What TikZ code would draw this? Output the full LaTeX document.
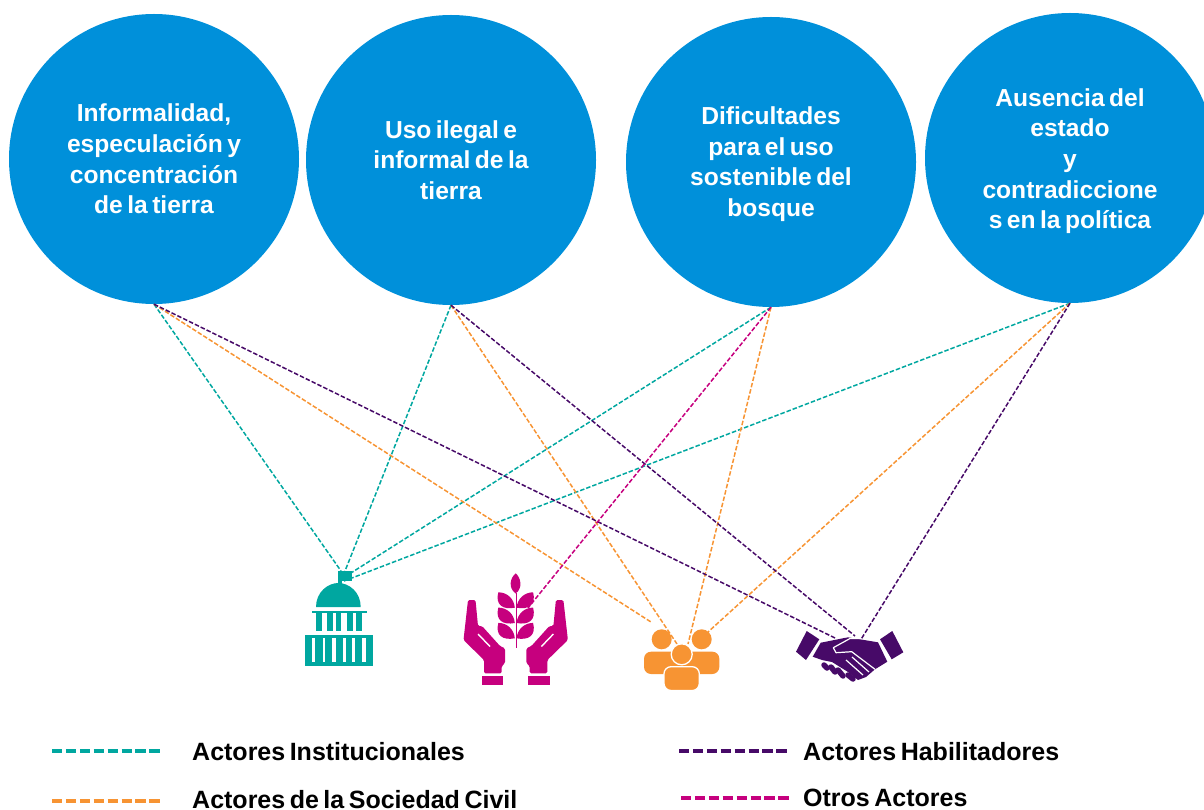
\documentclass[tikz,border=0pt]{standalone}
\usepackage{fontspec}
\setmainfont[WordSpace=0.65]{Liberation Sans}
\definecolor{azul}{HTML}{0090DA}
\definecolor{institucional}{HTML}{00A7A0}
\definecolor{civil}{HTML}{F79433}
\definecolor{habilitador}{HTML}{470A68}
\definecolor{otros}{HTML}{C6007E}
\tikzset{
	problema/.style={circle,fill=azul,draw=none,text=white,minimum size=290pt,inner sep=0pt,align=center,
		font=\fontsize{24.6}{30.7}\selectfont\bfseries},
	enlace/.style={dashed,dash pattern=on 4.5pt off 2pt,line width=1.5pt},
	muestra/.style={dash pattern=on 10.4pt off 3.5pt,line width=3.2pt},
	leyenda/.style={anchor=base west,inner sep=0pt,text=black,font=\fontsize{25}{28}\selectfont\bfseries},
	dedo/.style={habilitador,line width=5.5pt,line cap=round},
	mano/.pic={
		\fill[otros,rounded corners=1.5pt] (463.5,640) -- (468,600) -- (475.5,600) -- (478,626)
			-- (482,626) -- (500,646) -- (505,648.3) -- (505,663.3) -- (501.7,666) -- (501.7,673.3)
			-- (484,673.3) -- (484,660) -- cycle;
		\draw[white,line width=1.4pt] (478,634) -- (490,646.5);
		\fill[otros] (481.7,675.7) rectangle (503.3,685);
	},
	hojas/.pic={
		\foreach \dy in {0,15.3,30.6}{
			\fill[otros,yshift=-\dy pt] (498.3,592.3) .. controls (506.7,592.3) and (514,598.3) .. (514.8,607.7)
				.. controls (503,610) and (495,605) .. cycle;
		}
	},
}
\begin{document}
\begin{tikzpicture}[x=1pt,y=-1pt]
	\useasboundingbox (0,0) rectangle (1204,810);
	\node[problema] (informalidad) at (154,159) {Informalidad,\\especulación y\\concentración\\de la tierra};
	\node[problema] (usoilegal) at (451,160) {Uso ilegal e\\informal de la\\tierra};
	\node[problema] (dificultades) at (771,162) {\rule{0pt}{22pt}Dificultades\\para el uso\\sostenible del\\bosque};
	\node[problema] (ausencia) at (1070,158) {\rule{0pt}{24pt}Ausencia del\\estado\\y\\contradiccione\\s en la política};

	% extremos de los enlaces
	\coordinate (gobA) at (341,571);
	\coordinate (gobB) at (345,571);
	\coordinate (gobC) at (343,578);
	\coordinate (gobD) at (344,581);
	\coordinate (plantaA) at (528,608);
	\coordinate (gentA) at (651,622);
	\coordinate (gentB) at (677,644);
	\coordinate (gentC) at (688,644);
	\coordinate (gentD) at (708,632);
	\coordinate (manosA) at (835,638);
	\coordinate (manosB) at (855,636);
	\coordinate (manosC) at (860,641);

	\draw[enlace,institucional]
	(informalidad.south) edge (gobA)
	(usoilegal.south) edge (gobB)
	(dificultades.south) edge (gobC)
	(ausencia.south) edge (gobD)
	;
	\draw[enlace,civil]
	(informalidad.south) edge (gentA)
	(usoilegal.south) edge (gentB)
	(dificultades.south) edge (gentC)
	(ausencia.south) edge (gentD)
	;
	\draw[enlace,habilitador]
	(informalidad.south) edge (manosA)
	(usoilegal.south) edge (manosB)
	(ausencia.south) edge (manosC)
	;
	\draw[enlace,otros] (dificultades.south) edge (plantaA);

	% edificio
	\fill[institucional] (337.7,570.7) rectangle (352.3,580.7);
	\fill[institucional] (337.7,580) rectangle (341.5,585);
	\fill[institucional] (316,607) .. controls (316,592) and (328,583) .. (338.3,583)
		.. controls (349,583) and (360.7,592) .. (360.7,607) -- cycle;
	\fill[institucional] (311.7,610.7) rectangle (366.7,613.3);
	\foreach \xa/\xb in {316/322,326.7/332.7,336/341.3,346.7/352.7,356/362.3}{
		\fill[institucional] (\xa,613.3) rectangle (\xb,631.3);
	}
	\fill[institucional] (305.3,635.3) rectangle (373.3,666);
	\foreach \xa/\xb in {312/315.3,322.7/325.3,332.3/336,342.7/345.7,352.3/355.3,362.3/365.7}{
		\fill[white] (\xa,638) rectangle (\xb,662.3);
	}

	% manos y espiga
	\pic {mano};
	\pic {hojas};
	\begin{scope}[xshift=1031.4pt,xscale=-1]
		\pic[transform shape] {mano};
		\pic[transform shape] {hojas};
	\end{scope}
	\fill[otros] (515.7,573.3) .. controls (510,578) and (508,588) .. (515.7,593.5)
		.. controls (523,588) and (521,578) .. (515.7,573.3) -- cycle;
	\draw[otros,line width=1pt] (516.2,593) -- (516.2,648);

	% personas
	\fill[civil] (661.7,639.3) circle (10);
	\fill[civil] (701.7,639.3) circle (10);
	\fill[civil,rounded corners=7pt] (644,674) -- (644,651.7) -- (680,651.7) -- (683,674) -- cycle;
	\fill[civil,rounded corners=7pt] (719.3,674) -- (719.3,651.7) -- (683,651.7) -- (680,674) -- cycle;
	\filldraw[civil,draw=white,line width=1.3pt] (681.7,654.3) circle (10.5);
	\filldraw[civil,draw=white,line width=1.3pt,rounded corners=7pt] (664,690.5) -- (664,666.7) -- (699.3,666.7) -- (699.3,690.5) -- cycle;

	% apretón de manos
	\fill[habilitador] (806.7,631) -- (819.3,639.3) -- (806,660) -- (796,651.7) -- cycle;
	\fill[habilitador] (892.3,631) -- (903.3,652.3) -- (891.7,659.3) -- (880,639.3) -- cycle;
	\fill[habilitador] (820.7,642.7) -- (848,637.3) -- (878,642.3) -- (887.3,661.7) -- (875,669.3)
		-- (866,677) -- (858,680) -- (848,672) -- (832,662) -- (822,660) -- (812.7,656.7) -- cycle;
	\draw[dedo] (824,665) -- (827,668);
	\draw[dedo] (831,667) -- (835,672);
	\draw[dedo] (838,670) -- (843,676);
	\draw[dedo] (848,675) -- (853,679);
	\draw[white,line width=1.2pt,line join=round] (861,638.5) -- (850,638.5) -- (833.3,647.7) -- (836,652.7)
		-- (851.7,651.7) -- (875,669.3);
	\draw[white,line width=1.2pt] (852,657) -- (869,672)
		(846,660) -- (863,675);

	% leyenda
	\coordinate (tealA) at (52,751);
	\coordinate (tealB) at (160,751);
	\coordinate (naranjaA) at (52,801);
	\coordinate (naranjaB) at (160,801);
	\coordinate (moradoA) at (679,751);
	\coordinate (moradoB) at (787,751);
	\coordinate (otrosA) at (681,798);
	\coordinate (otrosB) at (790,798);
	\draw[muestra,institucional] (tealA) -- (tealB);
	\draw[muestra,civil] (naranjaA) -- (naranjaB);
	\draw[muestra,habilitador] (moradoA) -- (moradoB);
	\draw[muestra,otros] (otrosA) -- (otrosB);
	\node[leyenda] (institucionales) at (192,760) {Actores Institucionales};
	\node[leyenda] (sociedad) at (192,808) {Actores de la Sociedad Civil};
	\node[leyenda] (habilitadores) at (803,760) {Actores Habilitadores};
	\node[leyenda] (otrosactores) at (803,806) {Otros Actores};
\end{tikzpicture}
\end{document}
